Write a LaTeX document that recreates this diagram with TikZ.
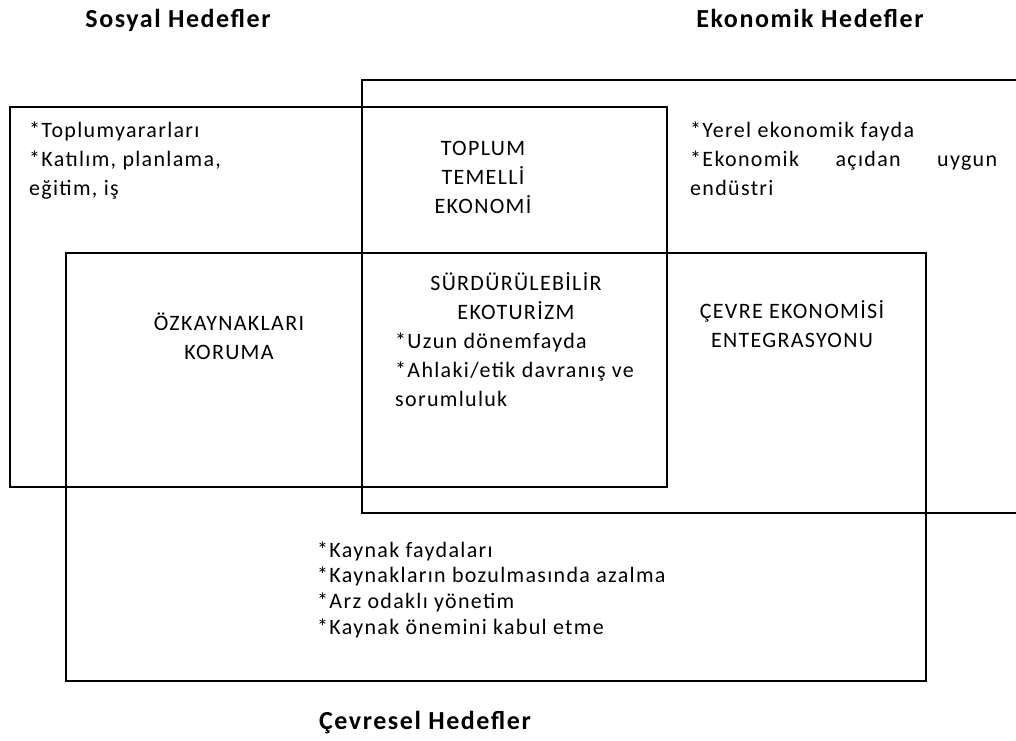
\documentclass[tikz,border=0pt]{standalone}
\usepackage{fontspec}
\setmainfont{Carlito}
\newfontfamily\govde[LetterSpace=6]{Carlito}
\usetikzlibrary{positioning}
\def\FDLine{1.5pt}
\def\FDSkip{29}

\begin{document}
\begin{tikzpicture}[x=1pt,y=-1pt,
    metin/.style={font=\govde\fontsize{22}{\FDSkip}\selectfont,inner sep=0pt,anchor=base},
    baslik/.style={font=\govde\bfseries\fontsize{26}{30}\selectfont,inner sep=0pt,anchor=base},
    kutu/.style={line width=\FDLine}]
    \useasboundingbox (0,0) rectangle (1016,740);
    % kutular
    \draw[kutu] (10,107) rectangle (667,487);
    \draw[kutu] (1016,80) -- (362,80) -- (362,513) -- (1016,513);
    \draw[kutu] (66,253) rectangle (926,681);
    % basliklar
    \node[baslik] (sos) at (178,27) {Sosyal Hedefler};
    \node[baslik] (eko) at (810,27) {Ekonomik Hedefler};
    \node[baslik] (cev) at (425,729) {Çevresel Hedefler};
    % sosyal (base = son satir)
    \node[metin,anchor=base west,align=left] (sosa) at (29,195)
        {*Toplumyararları\\*Katılım, planlama,\\eğitim, iş};
    % ekonomik
    \node[metin,anchor=base west,align=left] (ekoa) at (690,195)
        {*Yerel ekonomik fayda\\\makebox[307pt][s]{*Ekonomik açıdan uygun}\\endüstri};
    % kesisimler
    \node[metin,align=center] (tte) at (483,213) {TOPLUM\\TEMELLİ\\EKONOMİ};
    \node[metin,align=center] (ozk) at (229,359) {ÖZKAYNAKLARI\\KORUMA};
    \node[metin,align=center] (cee) at (792,347) {ÇEVRE EKONOMİSİ\\ENTEGRASYONU};
    \node[metin,align=center] (sur) at (516,319) {SÜRDÜRÜLEBİLİR\\EKOTURİZM};
    \node[metin,anchor=base west,align=left] (sura) at (395,406)
        {*Uzun dönemfayda\\*Ahlaki/etik davranış ve\\sorumluluk};
    % cevresel
    \node[metin,anchor=base west,align=left,font=\govde\fontsize{22}{25.6}\selectfont] (ceva) at (317,634)
        {*Kaynak faydaları\\*Kaynakların bozulmasında azalma\\*Arz odaklı yönetim\\*Kaynak önemini kabul etme};
\end{tikzpicture}
\end{document}
